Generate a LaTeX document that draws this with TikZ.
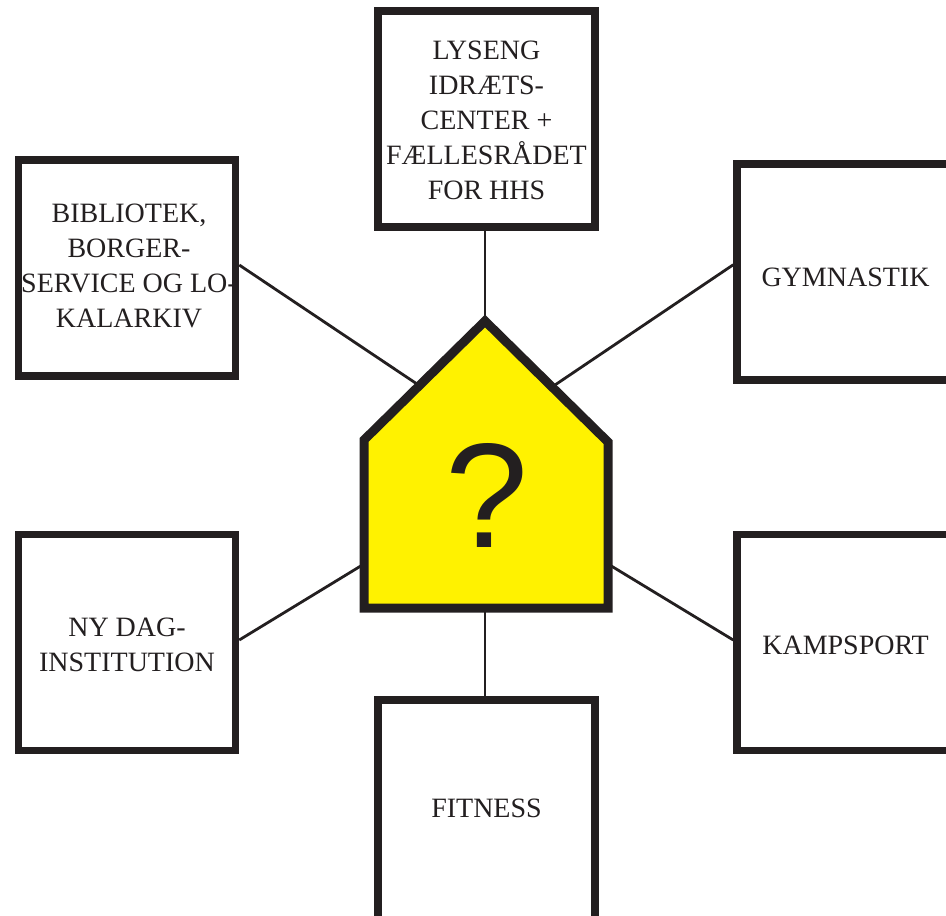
\documentclass[tikz,border=0pt]{standalone}
\usepackage{fontspec}
\setmainfont{Liberation Serif}
\newfontfamily\qfont{Liberation Sans}
\definecolor{ink}{HTML}{231F20}
\definecolor{houseyellow}{HTML}{FFF200}
\begin{document}
\begin{tikzpicture}[x=1pt,y=-1pt,
  box/.style={draw=ink, line width=7.5pt, fill=white, minimum width=217pt, minimum height=216pt, inner sep=0pt},
  lbl/.style={align=center, text=ink, font=\fontsize{28}{35}\selectfont, inner sep=0pt},
  link/.style={draw=ink, line width=2.8pt}]
\useasboundingbox (0,0) rectangle (946,916);
\clip (0,0) rectangle (946,916);
% house reference points
\coordinate (hApex) at (485,321);
\coordinate (hBot) at (485,608);
\coordinate (hUL) at (420,386);
\coordinate (hUR) at (552,387);
\coordinate (hLL) at (364,564);
\coordinate (hLR) at (608,564);
% boxes
\node[box] (top) at (486.5,119) {};
\node[box] (lib) at (127,268) {};
\node[box] (gym) at (845.5,271.75) {};
\node[box] (day) at (127,642.5) {};
\node[box] (kamp) at (845.5,642.5) {};
\node[box, minimum height=230pt] (fit) at (486.5,815) {};
% connectors
\draw[link] (hApex |- top.south) -- (hApex);
\draw[link] (hBot) -- (hBot |- fit.north);
\draw[link] ([yshift=3pt]lib.east) -- (hUL);
\draw[link] ([yshift=7pt]gym.west) -- (hUR);
\draw[link] ([yshift=2.5pt]day.east) -- (hLL);
\draw[link] ([yshift=2.5pt]kamp.west) -- (hLR);
% house
\draw[draw=ink, fill=houseyellow, line width=9pt, line join=miter]
  (364,608) -- (364,440) -- (hApex) -- (608,442) -- (608,608) -- cycle;
\node[text=ink, font=\qfont\fontsize{149}{149}\selectfont, inner sep=0pt] (q) at (487,495.5) {?};
% labels
\node[lbl] (topL) at (486.5,120) {LYSENG\\IDRÆTS-\\CENTER +\\FÆLLESRÅDET\\FOR HHS};
\node[lbl] (libL) at (129,266) {BIBLIOTEK,\\BORGER-\\SERVICE OG LO-\\KALARKIV};
\node[lbl] (gymL) at (845.5,277.5) {GYMNASTIK};
\node[lbl] (dayL) at (127,644.5) {NY DAG-\\INSTITUTION};
\node[lbl] (kampL) at (845.5,645) {KAMPSPORT};
\node[lbl] (fitL) at (486.5,808.5) {FITNESS};
\end{tikzpicture}
\end{document}
